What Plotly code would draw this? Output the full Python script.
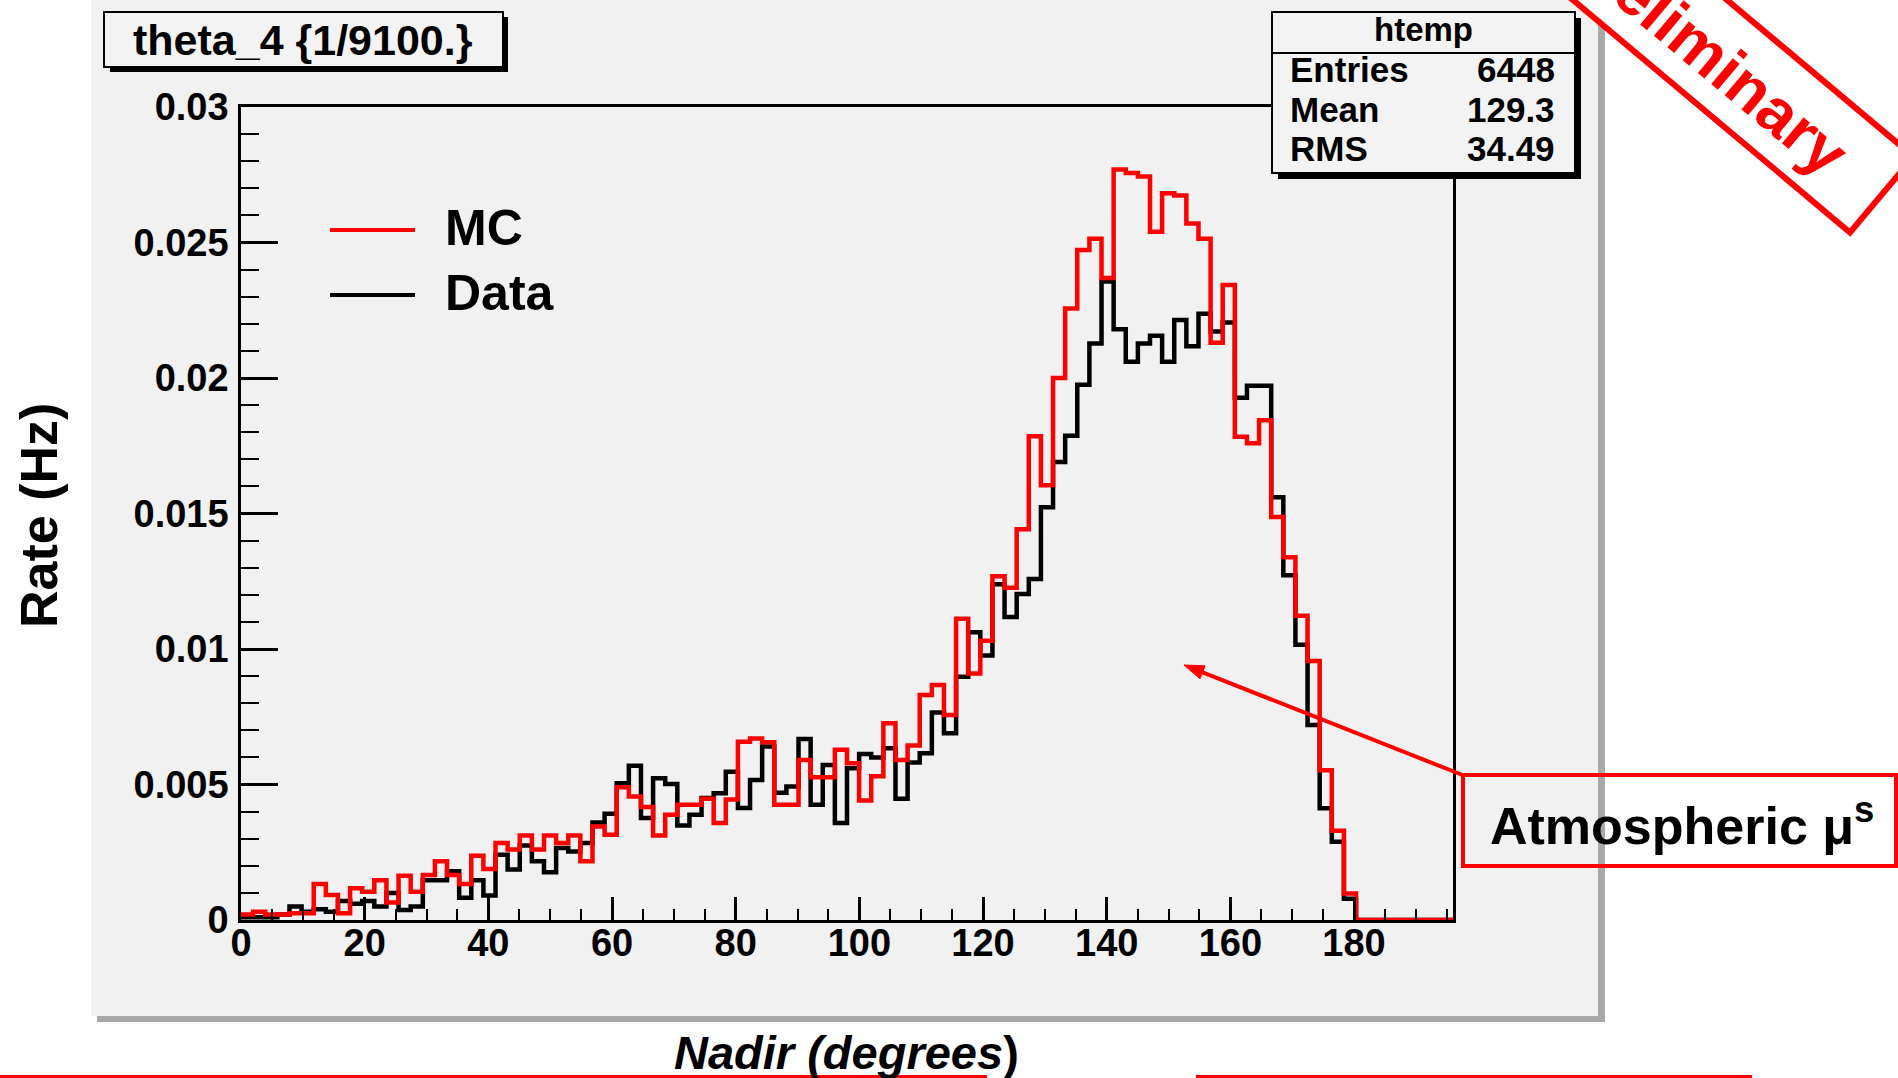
import math
import plotly.graph_objects as go

# ---- histogram definition: theta_4 (nadir angle), weight 1/9100 ----
X_MIN, X_MAX, N_BINS = 0.0, 196.0, 100

# MC rate per bin (Hz)
mc_rate = [
    0.00020, 0.00030, 0.00020, 0.00020, 0.00025, 0.00025, 0.00133, 0.00092, 0.00025, 0.00117,
    0.00104, 0.00147, 0.00065, 0.00163, 0.00104, 0.00166, 0.00217, 0.00166, 0.00133, 0.00237,
    0.00188, 0.00284, 0.00260, 0.00312, 0.00260, 0.00312, 0.00284, 0.00312, 0.00217, 0.00345,
    0.00315, 0.00490, 0.00456, 0.00417, 0.00312, 0.00388, 0.00425, 0.00425, 0.00447, 0.00358,
    0.00445, 0.00658, 0.00670, 0.00656, 0.00425, 0.00425, 0.00590, 0.00527, 0.00527, 0.00628,
    0.00578, 0.00441, 0.00530, 0.00726, 0.00590, 0.00644, 0.00830, 0.00867, 0.00756, 0.01112,
    0.00910, 0.01030, 0.01268, 0.01226, 0.01442, 0.01785, 0.01604, 0.02000, 0.02256, 0.02472,
    0.02514, 0.02369, 0.02769, 0.02756, 0.02744, 0.02540, 0.02682, 0.02673, 0.02570, 0.02514,
    0.02130, 0.02343, 0.01783, 0.01759, 0.01844, 0.01487, 0.01339, 0.01123, 0.00956, 0.00553,
    0.00329, 0.00098, 0.0, 0.0, 0.0, 0.0, 0.0, 0.0, 0.0, 0.0,
]

# Measured rate per bin (Hz)
data_rate = [
    0.00010, 0.00010, 0.00010, 0.00020, 0.00050, 0.00030, 0.00040, 0.00030, 0.00070, 0.00060,
    0.00070, 0.00050, 0.00100, 0.00037, 0.00050, 0.00147, 0.00147, 0.00180, 0.00082, 0.00147,
    0.00090, 0.00241, 0.00186, 0.00275, 0.00217, 0.00176, 0.00266, 0.00253, 0.00284, 0.00360,
    0.00392, 0.00505, 0.00569, 0.00376, 0.00523, 0.00502, 0.00349, 0.00388, 0.00450, 0.00468,
    0.00547, 0.00413, 0.00517, 0.00640, 0.00470, 0.00493, 0.00668, 0.00425, 0.00572, 0.00358,
    0.00560, 0.00613, 0.00600, 0.00634, 0.00447, 0.00581, 0.00615, 0.00766, 0.00689, 0.00898,
    0.01062, 0.00976, 0.01239, 0.01118, 0.01203, 0.01258, 0.01523, 0.01690, 0.01787, 0.01975,
    0.02127, 0.02356, 0.02180, 0.02060, 0.02127, 0.02156, 0.02060, 0.02214, 0.02117, 0.02237,
    0.02172, 0.02205, 0.01927, 0.01971, 0.01971, 0.01560, 0.01272, 0.01016, 0.00720, 0.00412,
    0.00289, 0.00078, 0.0, 0.0, 0.0, 0.0, 0.0, 0.0, 0.0, 0.0,
]

x_tick_vals = [0, 20, 40, 60, 80, 100, 120, 140, 160, 180]
x_tick_text = ["0", "20", "40", "60", "80", "100", "120", "140", "160", "180"]
y_tick_vals = [0, 0.005, 0.01, 0.015, 0.02, 0.025, 0.03]
y_tick_text = ["0", "0.005", "0.01", "0.015", "0.02", "0.025", "0.03"]

stats_title = "htemp"
stats_names = ["Entries", "Mean", "RMS"]
stats_values = ["6448", "129.3", "34.49"]

# ---- page geometry (pixels) ----
W, H = 1898, 1078
PL, PR, PT, PB = 241, 1453, 107, 920
FONT = "Liberation Sans"
PANEL = "#f1f1f1"
RED = "#ff0000"


def fx(x):
    return (x - PL) / (PR - PL)


def fy(y):
    return (PB - y) / (PB - PT)


shapes = []
annotations = []


def rect(x0, y0, x1, y1, fill=None, line=None, lw=0, layer="above"):
    shapes.append(dict(
        type="rect", xref="paper", yref="paper",
        x0=fx(x0), x1=fx(x1), y0=fy(y1), y1=fy(y0),
        fillcolor=fill if fill else "rgba(0,0,0,0)",
        line=dict(color=line if line else "rgba(0,0,0,0)", width=lw),
        layer=layer,
    ))


def segment(x0, y0, x1, y1, color, lw, layer="above"):
    shapes.append(dict(
        type="line", xref="paper", yref="paper",
        x0=fx(x0), y0=fy(y0), x1=fx(x1), y1=fy(y1),
        line=dict(color=color, width=lw), layer=layer,
    ))


def polygon(pts, fill=None, line=None, lw=0, layer="above"):
    path = "M " + " L ".join(f"{fx(a):.5f},{fy(b):.5f}" for a, b in pts) + " Z"
    shapes.append(dict(
        type="path", xref="paper", yref="paper", path=path,
        fillcolor=fill if fill else "rgba(0,0,0,0)",
        line=dict(color=line if line else "rgba(0,0,0,0)", width=lw),
        layer=layer,
    ))


def label(x, y, text, size, color="black", xanchor="center", angle=0):
    annotations.append(dict(
        xref="paper", yref="paper", x=fx(x), y=fy(y), text=text,
        showarrow=False, xanchor=xanchor, yanchor="middle", textangle=angle,
        font=dict(family=FONT, size=size, color=color),
    ))


# canvas pad with its drop shadow
rect(97, 6, 1605, 1022, fill="#a9a9a9", layer="below")
rect(91, 0, 1598, 1016, fill=PANEL, layer="below")

# title box
rect(110, 17, 508, 72, fill="black")
rect(104, 12, 503, 67, fill="#f3f3f3", line="black", lw=2)
label(303, 40, "<b>theta_4 {1/9100.}</b>", 43)

# statistics box
rect(1278, 18, 1581, 179, fill="black")
rect(1272, 12, 1575, 173, fill="#f3f3f3", line="black", lw=2)
segment(1272, 53, 1575, 53, "black", 2)
label(1423, 30, f"<b>{stats_title}</b>", 33)
for name, val, yy in zip(stats_names, stats_values, [70, 110, 149]):
    label(1288, yy, f"<b>{name}</b>", 35, xanchor="left")
    label(1557, yy, f"<b>{val}</b>", 35, xanchor="right")

# legend
segment(330, 230, 415, 230, RED, 4)
segment(330, 295, 415, 295, "black", 4)
label(443, 228, "<b>MC</b>", 50, xanchor="left")
label(443, 293, "<b>Data</b>", 50, xanchor="left")

# axis titles
label(39, 516, "<b>Rate (Hz)</b>", 52, angle=-90)
label(846, 1052, "<b><i>Nadir (degrees</i>)</b>", 47)

# slide rules under the plot
rect(0, 1075, 987, 1078, fill=RED)
rect(1196, 1075, 1752, 1078, fill=RED)

# callout: arrow and framed label
tip = (1184, 665)
tail = (1465, 776)
dx, dy = tip[0] - tail[0], tip[1] - tail[1]
L = math.hypot(dx, dy)
ux, uy = dx / L, dy / L
head_len, head_half = 20, 7
bx, by = tip[0] - head_len * ux, tip[1] - head_len * uy
segment(tail[0], tail[1], bx, by, RED, 4)
polygon([tip, (bx - head_half * uy, by + head_half * ux), (bx + head_half * uy, by - head_half * ux)],
        fill=RED, line=RED, lw=1)
rect(1463, 775, 1896, 866, line=RED, lw=4)
label(1682, 822, "<b>Atmospheric μ<sup>s</sup></b>", 52)

# "Preliminary" stamp
ang = math.radians(40)
ex, ey = math.cos(ang), math.sin(ang)
nx, ny = math.sin(ang), -math.cos(ang)
o = (1573, 0)
t0, t1, wid = -90, 361.6, 99
A = (o[0] + t0 * ex, o[1] + t0 * ey)
B = (o[0] + t1 * ex, o[1] + t1 * ey)
C = (B[0] + wid * nx, B[1] + wid * ny)
D = (A[0] + wid * nx, A[1] + wid * ny)
polygon([A, B, C, D], fill="white", line=RED, lw=6)
label(1706, 51, "<b>Preliminary</b>", 64, color=RED, angle=40)

# ---- histogram outlines ----
width = (X_MAX - X_MIN) / N_BINS
edges = [X_MIN + i * width for i in range(N_BINS + 1)]

fig = go.Figure()
fig.add_trace(go.Scatter(
    x=edges, y=data_rate + [data_rate[-1]], mode="lines", name="Data",
    line=dict(shape="hv", color="black", width=4.5), showlegend=False,
))
fig.add_trace(go.Scatter(
    x=edges, y=mc_rate + [mc_rate[-1]], mode="lines", name="MC",
    line=dict(shape="hv", color=RED, width=4.5), showlegend=False,
))

axis_common = dict(
    showline=True, linecolor="black", linewidth=2.5, mirror=True,
    ticks="inside", tickcolor="black", tickwidth=2.5,
    showgrid=False, zeroline=False, automargin=False,
    tickfont=dict(family=FONT, size=38, color="black", weight="bold"),
)

fig.update_layout(
    width=W, height=H, autosize=False,
    margin=dict(l=PL, r=W - PR, t=PT, b=H - PB, pad=0),
    paper_bgcolor="white", plot_bgcolor=PANEL,
    xaxis=dict(
        range=[X_MIN, X_MAX], tickmode="array", tickvals=x_tick_vals, ticktext=x_tick_text,
        ticklen=23, ticklabelstandoff=-12,
        minor=dict(tickmode="linear", tick0=0, dtick=5, ticks="inside", ticklen=11,
                   tickwidth=2, tickcolor="black"),
        **axis_common,
    ),
    yaxis=dict(
        range=[0, 0.03], tickmode="array", tickvals=y_tick_vals, ticktext=y_tick_text,
        ticklen=37, ticklabelstandoff=2,
        minor=dict(tickmode="linear", tick0=0, dtick=0.001, ticks="inside", ticklen=18,
                   tickwidth=2, tickcolor="black"),
        **axis_common,
    ),
    shapes=shapes,
    annotations=annotations,
    showlegend=False,
)

fig.write_html("out.html")
